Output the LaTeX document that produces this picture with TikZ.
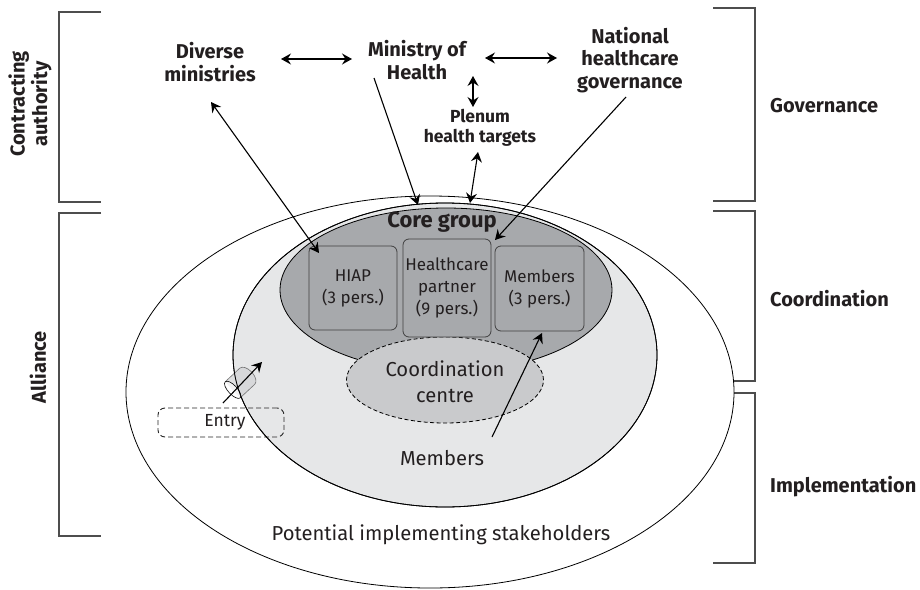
\documentclass[tikz,border=0pt]{standalone}
\usepackage{fontspec}
\setmainfont{Fira Sans}
\usetikzlibrary{shapes.geometric,arrows.meta,calc}
\definecolor{midgray}{HTML}{E6E7E8}
\definecolor{coregray}{HTML}{A7A9AC}
\definecolor{coordgray}{HTML}{C9CACC}
\definecolor{brk}{HTML}{4D4D4D}
\definecolor{txt}{HTML}{231F20}
\definecolor{cylgray}{HTML}{D2D3D5}
\begin{document}
\begin{tikzpicture}[x=1pt,y=-1pt,
  bl/.style={font=\bfseries\fontsize{20}{22.5}\selectfont, align=center, text=txt, inner sep=0pt},
  sbl/.style={font=\bfseries\fontsize{17.5}{20}\selectfont, align=center, text=txt, inner sep=0pt},
  rl/.style={font=\fontsize{20.2}{26}\selectfont, align=center, text=txt, inner sep=0pt},
  boxt/.style={draw=black!75, fill=coregray, rounded corners=6pt, line width=0.8pt, font=\fontsize{17}{22}\selectfont, align=center, text=txt, inner sep=0pt},
  ell/.style={ellipse, draw=black, line width=0.8pt, inner sep=0pt},
  arr/.style={line width=1.1pt, -{Stealth[length=10pt,width=11pt,inset=3.5pt]}},
  darr/.style={line width=1.1pt, {Stealth[length=10pt,width=11pt,inset=3.5pt]}-{Stealth[length=10pt,width=11pt,inset=3.5pt]}},
  bracket/.style={draw=brk, line width=1.2pt},
]
\useasboundingbox (0,0) rectangle (920,589);

% brackets
\draw[bracket] (101,12) -- (59,12) -- (59,202) -- (101,202);
\draw[bracket] (101,213) -- (59,213) -- (59,536) -- (101,536);
\draw[bracket] (713,8) -- (755,8) -- (755,201) -- (713,201);
\draw[bracket] (713,211) -- (755,211) -- (755,381) -- (713,381);
\draw[bracket] (713,393) -- (755,393) -- (755,563) -- (713,563);

\node[bl, rotate=90] (ca) at (30,104) {Contracting\\authority};
\node[bl, rotate=90] (al) at (38,367) {Alliance};
\node[bl, anchor=west] (gov) at (770,106) {Governance};
\node[bl, anchor=west] (coo) at (770,299) {Coordination};
\node[bl, anchor=west] (imp) at (770,487) {Implementation};

% ellipses
\node[ell, fill=white, minimum width=608, minimum height=392] (outer) at (430,392) {};
\node[ell, fill=midgray, minimum width=424, minimum height=304] (mid) at (445,355) {};
\node[ell, fill=coregray, minimum width=332, minimum height=164] (core) at (446,290) {};
\node[ell, fill=coordgray, dashed, dash pattern=on 4pt off 2.5pt, minimum width=197, minimum height=86] (cc) at (445,380) {};

% boxes
\node[boxt, minimum width=88, minimum height=84] (hiap) at (353,288) {HIAP\\(3 pers.)};
\node[boxt, minimum width=88, minimum height=98] (hcp) at (447,288) {Healthcare\\partner\\(9 pers.)};
\node[boxt, minimum width=89, minimum height=85] (mem) at (539.5,288.5) {Members\\(3 pers.)};

\node[rl] (cctext) at (445,382) {Coordination\\centre};
\node[bl, font=\bfseries\fontsize{22}{24}\selectfont] (coretitle) at (442,222) {Core group};
\node[rl] (memtxt) at (442,458) {Members};
\node[rl] (pot) at (441,535) {Potential implementing stakeholders};

% entry
\node[draw=black!85, line width=0.9pt, dashed, dash pattern=on 5pt off 3pt, rounded corners=7pt, minimum width=126, minimum height=29, inner sep=0pt, font=\fontsize{17.5}{20}\selectfont, text=txt] (entry) at (221,422.5) {\hspace{8pt}Entry};

% cylinder (entry sleeve)
\begin{scope}[shift={(240,383)}, x=1pt, y=1pt, rotate=43]
  \fill[cylgray, fill opacity=0.7] (-10,11) -- (10,11) arc[start angle=90, end angle=-90, x radius=6, y radius=11] -- (-10,-11) -- cycle;
  \draw[black!55, line width=0.6pt] (-10,11) -- (10,11) arc[start angle=90, end angle=-90, x radius=6, y radius=11] -- (-10,-11);
  \draw[black, line width=0.6pt, fill=white, fill opacity=0.6] (-10,0) ellipse [x radius=4.5, y radius=11];
\end{scope}
\draw[line width=0.8pt] (mid.center) ellipse [x radius=212, y radius=152];

% top labels
\node[bl] (div) at (210,62) {Diverse\\ministries};
\node[bl] (moh) at (417,60) {Ministry of\\Health};
\node[bl] (nhg) at (630,60) {National\\healthcare\\governance};
\node[sbl] (plen) at (480,128) {Plenum\\health targets};

% arrow end points
\coordinate (d1) at (281,59);  \coordinate (m1) at (352,59);
\coordinate (m2) at (485,58);  \coordinate (n1) at (557,58);
\coordinate (m3) at (473,76);  \coordinate (p1) at (473,107);
\coordinate (p2) at (478,152); \coordinate (c1) at (470,203);
\coordinate (d2) at (211,102); \coordinate (h1) at (319,253);
\coordinate (m4) at (374,78);  \coordinate (c2) at (418,205);
\coordinate (n2) at (626,97);  \coordinate (h2) at (495,240);
\coordinate (mt) at (492,437); \coordinate (mb) at (542,333);
\coordinate (e1) at (223,403); \coordinate (e2) at (262,362);

\draw[darr] (d1) -- (m1);
\draw[darr] (m2) -- (n1);
\draw[darr] (m3) -- (p1);
\draw[darr] (p2) -- (c1);
\draw[darr] (d2) -- (h1);
\draw[arr] (m4) -- (c2);
\draw[arr] (n2) -- (h2);
\draw[arr] (mt) -- (mb);
\draw[arr] (e1) -- (e2);
\end{tikzpicture}
\end{document}
